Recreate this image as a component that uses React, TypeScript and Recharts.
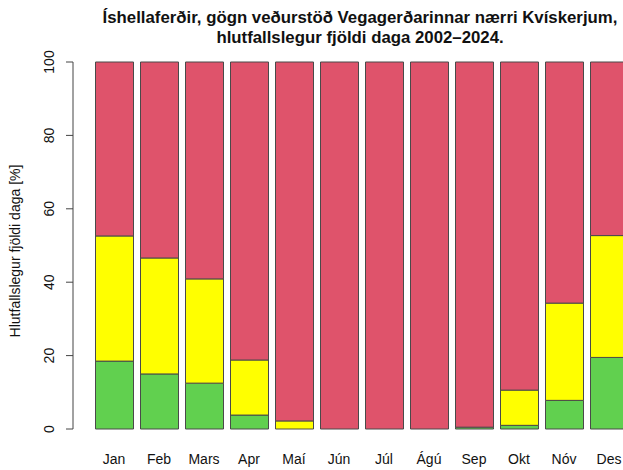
import React from 'react';
import { BarChart, Bar, XAxis, YAxis } from 'recharts';

const months = ['Jan', 'Feb', 'Mars', 'Apr', 'Maí', 'Jún', 'Júl', 'Ágú', 'Sep', 'Okt', 'Nóv', 'Des'];
const green = [18.5, 15.0, 12.5, 3.8, 0, 0, 0, 0, 0.5, 1.0, 7.8, 19.5];
const yellow = [34.1, 31.6, 28.4, 15.0, 2.2, 0, 0, 0, 0, 9.6, 26.5, 33.2];
const red = [47.4, 53.4, 59.1, 81.2, 97.8, 100, 100, 100, 99.5, 89.4, 65.7, 47.3];
const yTicks = [0, 20, 40, 60, 80, 100];

const titleLine1 = 'Íshellaferðir, gögn veðurstöð Vegagerðarinnar nærri Kvískerjum,';
const titleLine2 = 'hlutfallslegur fjöldi daga 2002–2024.';
const yLabel = 'Hlutfallslegur fjöldi daga [%]';

const data = months.map((m, i) => ({ month: m, green: green[i], yellow: yellow[i], red: red[i] }));

const FONT = '"Liberation Sans", Arial, Helvetica, sans-serif';

const YTick = (props: any) => {
  const { y, payload } = props;
  const x = 41;
  return (
    <text
      x={x}
      y={y}
      transform={`rotate(-90, ${x}, ${y})`}
      textAnchor="middle"
      dominantBaseline="central"
      fontSize={14}
      fontFamily={FONT}
      fill="#111"
    >
      {payload.value}
    </text>
  );
};

const XTick = (props: any) => {
  const { x, payload } = props;
  return (
    <text
      x={x}
      y={451}
      textAnchor="middle"
      dominantBaseline="central"
      fontSize={14}
      fontFamily={FONT}
      fill="#111"
    >
      {payload.value}
    </text>
  );
};

export default function App() {
  return (
    <div
      style={{
        position: 'relative',
        width: 623,
        height: 470,
        overflow: 'hidden',
        background: '#fff',
      }}
    >
      <style>{'html,body{margin:0;padding:0;overflow:hidden;}'}</style>
      <div style={{ position: 'absolute', left: 8, top: 8 }}>
        <BarChart
          width={640}
          height={462}
          data={data}
          margin={{ top: 54, right: 16.5, bottom: 0, left: 0 }}
        >
          <XAxis
            dataKey="month"
            axisLine={false}
            tickLine={false}
            interval={0}
            height={41}
            padding={{ left: 18.5, right: 0 }}
            tick={<XTick />}
          />
          <YAxis
            domain={[0, 100]}
            ticks={yTicks}
            width={65}
            axisLine={{ stroke: '#444' }}
            tickLine={{ stroke: '#444' }}
            tickSize={7}
            tick={<YTick />}
            interval={0}
          />
          <Bar dataKey="green" stackId="a" fill="#61D04F" stroke="#4a4a4a" strokeWidth={1} barSize={38} isAnimationActive={false} />
          <Bar dataKey="yellow" stackId="a" fill="#FFFF00" stroke="#4a4a4a" strokeWidth={1} barSize={38} isAnimationActive={false} />
          <Bar dataKey="red" stackId="a" fill="#DF536B" stroke="#4a4a4a" strokeWidth={1} barSize={38} isAnimationActive={false} />
        </BarChart>
      </div>
      <div
        style={{
          position: 'absolute',
          left: -40,
          width: 800,
          top: 7.5,
          textAlign: 'center',
          fontFamily: FONT,
          fontWeight: 'bold',
          fontSize: 16.8,
          lineHeight: '20px',
          color: '#111',
          whiteSpace: 'nowrap',
        }}
      >
        <div>{titleLine1}</div>
        <div>{titleLine2}</div>
      </div>
      <div
        style={{
          position: 'absolute',
          left: 15,
          top: 251,
          transform: 'translate(-50%, -50%) rotate(-90deg)',
          fontFamily: FONT,
          fontSize: 14,
          color: '#111',
          whiteSpace: 'nowrap',
        }}
      >
        {yLabel}
      </div>
    </div>
  );
}
